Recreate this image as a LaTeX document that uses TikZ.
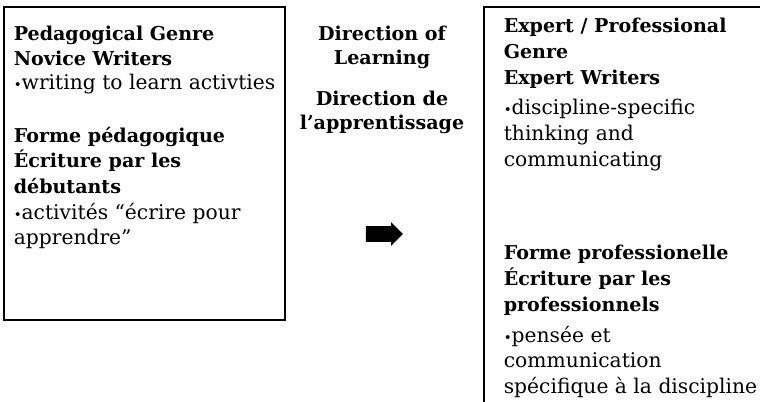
\documentclass[tikz,border=0pt]{standalone}
\usepackage{fontspec}
\setmainfont{DejaVu Serif}
\usepackage{tikz}
\usetikzlibrary{%
  arrows.meta,%
  calc,%
  shapes.arrows,%
}
\newcommand{\itembul}{{\fontsize{10}{10}\selectfont\textbullet}}

\begin{document}
\begin{tikzpicture}[x=0.75pt, y=-0.75pt, line width=1.2pt,
    box/.style={draw, outer sep=0pt, inner sep=0pt},
    txt/.style={anchor=base west, inner sep=0pt, align=left, font=\fontsize{15.2}{18.6}\selectfont},
    head/.style={txt, font=\fontsize{14.3}{18.6}\selectfont\bfseries},
    midtxt/.style={anchor=base, inner sep=0pt, align=center, font=\fontsize{14.3}{18.4}\selectfont\bfseries}]
  \useasboundingbox (0,0) rectangle (760,402);
  \clip (0,0) rectangle (760,402);
  % novice side
  \node [box, minimum width=210.75pt, minimum height=234.75pt] (pedbox) at (144.5, 163.5) {};
  \node [txt, font=\fontsize{15.2}{18.4}\selectfont] (pedEn) at ([shift={(9,83)}]pedbox.north west) {{\fontsize{14.3}{18.4}\selectfont\bfseries Pedagogical Genre}\\ {\fontsize{14.3}{18.4}\selectfont\bfseries Novice Writers}\\ \itembul writing to learn activties};
  \node [txt, font=\fontsize{15.2}{19.3}\selectfont] (pedFr) at ([shift={(9,238)}]pedbox.north west) {{\fontsize{14.3}{19.3}\selectfont\bfseries Forme pédagogique}\\ {\fontsize{14.3}{19.3}\selectfont\bfseries Écriture par les}\\ {\fontsize{14.3}{19.3}\selectfont\bfseries débutants}\\ \itembul activités “écrire pour\\ apprendre”};
  % direction
  \node [midtxt] (dirEn) at (382, 65) {Direction of\\ Learning};
  \node [midtxt] (dirFr) at (382, 130) {Direction de\\ l’apprentissage};
  \node [single arrow, fill=black, draw=none, inner sep=5.25pt, minimum height=27.75pt, single arrow head extend=3pt] (dirarrow) at (380.5, 234) {};
  % expert side (runs off the page)
  \node [box, minimum width=237pt, minimum height=332.25pt] (probox) at (642, 228.5) {};
  \node [head, font=\fontsize{14.3}{19.5}\selectfont\bfseries] (proEn) at ([shift={(19,78)}]probox.north west) {Expert / Professional\\ Genre\\ Expert Writers};
  \node [txt, font=\fontsize{15.2}{19.5}\selectfont] (proEnTxt) at ([shift={(19,160)}]probox.north west) {\itembul discipline-specific\\ thinking and\\ communicating};
  \node [head, font=\fontsize{14.3}{19.5}\selectfont\bfseries] (proFr) at ([shift={(19,305)}]probox.north west) {Forme professionelle\\ Écriture par les\\ professionnels};
  \node [txt, font=\fontsize{15.2}{19.1}\selectfont] (proFrTxt) at ([shift={(19,386)}]probox.north west) {\itembul pensée et\\ communication\\ spécifique à la discipline};
\end{tikzpicture}
\end{document}
